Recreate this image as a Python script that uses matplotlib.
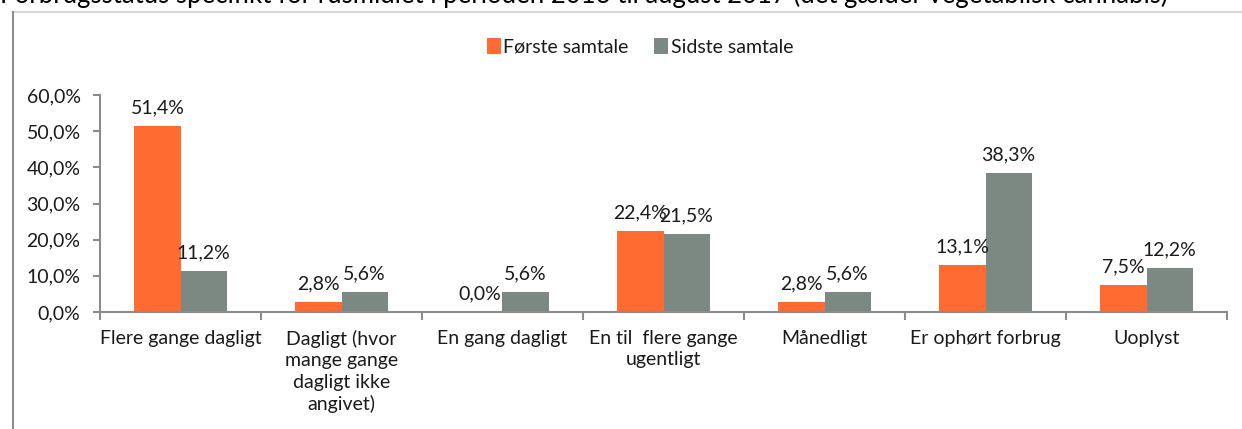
import numpy as np
import matplotlib
matplotlib.use("Agg")
import matplotlib.pyplot as plt
from matplotlib.lines import Line2D

plt.rcParams['font.family'] = ['Lato', 'DejaVu Sans']

# data
categories = ["Flere gange dagligt",
              "Dagligt (hvor\nmange gange\ndagligt ikke\nangivet)",
              "En gang dagligt",
              "En til  flere gange\nugentligt",
              "Månedligt",
              "Er ophørt forbrug",
              "Uoplyst"]
foerste = [51.4, 2.8, 0.0, 22.4, 2.8, 13.1, 7.5]
sidste = [11.2, 5.6, 5.6, 21.5, 5.6, 38.3, 12.2]
series_names = ["Første samtale", "Sidste samtale"]
yticks = [0, 10, 20, 30, 40, 50, 60]

orange = "#FF6B30"
gray = "#7B8982"
axcol = "#8C8C8C"
txtcol = "#1A1A1A"

fig = plt.figure(figsize=(12.42, 4.29), dpi=100)
ax = fig.add_axes([100/1242, 1-312/429, 1127/1242, 217/429])

x = np.arange(len(categories))
w = 0.286
b1 = ax.bar(x - w/2, foerste, w, color=orange, label=series_names[0])
b2 = ax.bar(x + w/2, sidste, w, color=gray, label=series_names[1])

def fmt(v):
    return ("%.1f%%" % v).replace(".", ",")

for bars, vals in [(b1, foerste), (b2, sidste)]:
    for r, v in zip(bars, vals):
        ax.annotate(fmt(v), (r.get_x() + r.get_width()/2, v),
                    xytext=(0, 7), textcoords="offset points",
                    ha="center", va="bottom", fontsize=14, color=txtcol)

ax.set_xlim(-0.5, len(categories) - 0.5)
ax.set_ylim(0, 60)
ax.set_yticks(yticks)
ax.set_yticklabels([fmt(t) for t in yticks], fontsize=14, color=txtcol)
ax.set_xticks(x)
ax.set_xticklabels(categories, fontsize=14, color=txtcol, linespacing=1.3, va="top")
ax.set_xticks(np.arange(len(categories) + 1) - 0.5, minor=True)
ax.tick_params(axis="x", which="major", length=0, pad=13)
ax.tick_params(axis="x", which="minor", length=6, color=axcol, width=1.5)
ax.tick_params(axis="y", length=5, color=axcol, width=1.5, pad=9)

for s in ["top", "right"]:
    ax.spines[s].set_visible(False)
for s in ["left", "bottom"]:
    ax.spines[s].set_color(axcol)
    ax.spines[s].set_linewidth(1.5)

fig.legend(handles=[b1, b2], labels=series_names, loc="center",
           bbox_to_anchor=(640/1242, 1-47/429), ncol=2, frameon=False,
           fontsize=14, handlelength=0.7, handleheight=0.9, handletextpad=0.15,
           columnspacing=1.3, labelcolor=txtcol)

# title (cut off at the top edge, as in the source) and chart frame
fig.text(0.0, 1-3/429, "Forbrugsstatus specifikt for rusmidlet i perioden 2016 til august 2017 (det gælder vegetabilsk cannabis)",
         fontsize=18.5, ha="left", va="baseline", color="black")
fig.add_artist(Line2D([13/1242, 1], [1-12/429, 1-12/429], color="#D9D9D9", lw=1.5))
fig.add_artist(Line2D([13/1242, 13/1242], [0, 1-12/429], color="#8C8C8C", lw=1.5))

fig.savefig("out.png", dpi=100)
